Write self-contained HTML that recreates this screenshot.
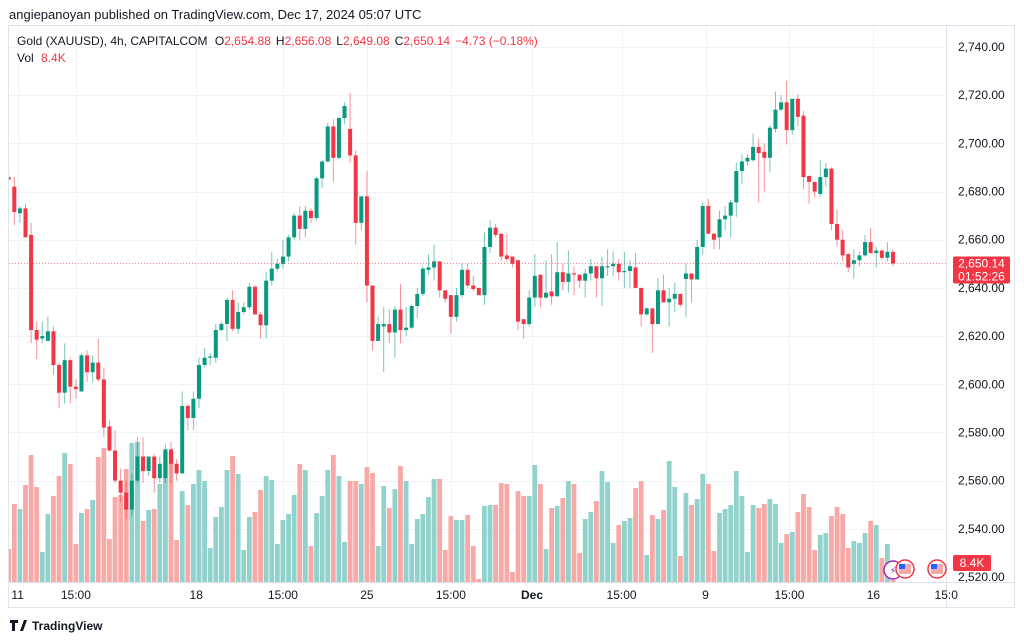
<!DOCTYPE html>
<html><head><meta charset="utf-8"><style>
html,body{margin:0;padding:0;background:#fff;width:1024px;height:641px;overflow:hidden}
svg text{font-family:"Liberation Sans","DejaVu Sans",sans-serif}
</style></head><body>
<svg id="chart" width="1024" height="641" viewBox="0 0 1024 641" xmlns="http://www.w3.org/2000/svg">
<defs><clipPath id="plotclip"><rect x="9" y="26" width="937" height="556"/></clipPath></defs>
<rect x="0" y="0" width="1024" height="641" fill="#fff"/>
<text x="9" y="19" font-size="13" fill="#131722">angiepanoyan published on TradingView.com, Dec 17, 2024 05:07 UTC</text>
<rect x="8.5" y="25.5" width="1006" height="582" fill="none" stroke="#e0e3eb"/>
<g id="grid"></g>
<g id="vol" clip-path="url(#plotclip)"></g>
<g id="candles" clip-path="url(#plotclip)"></g>
<line x1="946.5" y1="26" x2="946.5" y2="607" stroke="#e0e3eb"/>
<line x1="9" y1="582.5" x2="1014" y2="582.5" stroke="#e0e3eb"/>
<g id="ylabels"></g>
<g id="xlabels"></g>
<g font-size="12">
<text x="17" y="45" fill="#131722">Gold (XAUUSD), 4h, CAPITALCOM <tspan dx="4">O</tspan><tspan fill="#f23645">2,654.88</tspan><tspan dx="5">H</tspan><tspan fill="#f23645">2,656.08</tspan><tspan dx="5">L</tspan><tspan fill="#f23645">2,649.08</tspan><tspan dx="5">C</tspan><tspan fill="#f23645">2,650.14</tspan><tspan dx="5" fill="#f23645">−4.73 (−0.18%)</tspan></text>
<text x="17" y="62" fill="#131722">Vol <tspan dx="4" fill="#f23645">8.4K</tspan></text>
</g>
<line id="lastline" x1="9" x2="946" stroke="#f23645" stroke-width="1" stroke-dasharray="1,2" opacity="0.6"/>
<g>
<rect id="lastbox" x="953" width="57" height="27" rx="2" fill="#f23645"/>
<text id="lastp" x="981.5" font-size="12" fill="#fff" text-anchor="middle">2,650.14</text>
<text id="lastt" x="981.5" font-size="12" fill="#fff" text-anchor="middle">01:52:26</text>
</g>
<g>
<rect x="953" y="555" width="38" height="16" rx="2" fill="#f23645"/>
<text x="972" y="567" font-size="12" fill="#fff" text-anchor="middle">8.4K</text>
</g>
<g>
<circle cx="893" cy="570" r="9" fill="#fff" stroke="#9c27b0" stroke-width="1.5"/>
<text x="893" y="574" font-size="10" fill="#9c27b0" text-anchor="middle">⚡</text>
<circle cx="905" cy="569" r="9" fill="#fff" stroke="#f23645" stroke-width="1.5"/>
<rect x="899" y="564" width="12" height="10" fill="#f7a9a7"/><rect x="899" y="564" width="6" height="5" fill="#2962ff"/>
<circle cx="937" cy="569" r="9" fill="#fff" stroke="#f23645" stroke-width="1.5"/>
<rect x="931" y="564" width="12" height="10" fill="#f7a9a7"/><rect x="931" y="564" width="6" height="5" fill="#2962ff"/>
</g>
<g>
<path d="M10 620h8v3h-3v8h-3v-8h-2z M20 631l4-11h3l-4 11z" fill="#131722"/>
<text x="32" y="630" font-size="12" font-weight="bold" fill="#131722">TradingView</text>
</g>
</svg>
<script>
const opens=[2686,2682,2671,2673,2662,2622.5,2619,2618,2622,2608,2596.5,2610,2599,2597,2612,2605,2609,2602,2582.5,2572.5,2560,2555,2548,2560,2570,2564,2570,2561,2561,2573,2567,2563,2591,2586,2594,2608,2611,2611,2622.5,2625,2635,2623,2630,2632,2640.5,2629,2624.5,2643,2648,2650,2653,2661,2670,2664.5,2672,2669,2685.5,2692.5,2707,2694,2710.5,2706,2695,2667,2678,2641,2618,2624,2625,2621.5,2631,2622.5,2623.5,2632.5,2637.5,2647.5,2648.5,2651,2639,2637,2628,2637,2647.5,2641,2640,2637,2657,2665,2662.5,2653.5,2653,2651.5,2627,2625,2636,2645.5,2636,2638.5,2636.5,2646.5,2642.5,2646,2645.5,2643,2646,2649,2644,2648.5,2649,2650,2646.5,2647,2648.5,2640,2629,2631.5,2625,2639,2634,2635.5,2637.5,2643.7,2646,2643.5,2657,2674,2662.5,2661,2668.5,2670,2675.5,2688.5,2692.5,2693,2698.5,2696.5,2694,2706,2714,2717,2705.5,2718.5,2711.5,2686.5,2684,2679,2686,2689.5,2666.5,2660,2654,2650,2651.5,2653.5,2659,2654.5,2655.5,2652.5,2654.88];
const highs=[2687,2686,2674,2675,2667,2626,2626,2628,2624,2609,2617,2611,2602,2613,2614,2612,2619,2607,2585,2581,2565,2560,2563,2578,2578,2570,2571,2570,2575,2576,2569,2597,2592,2597,2611,2615,2613,2625,2626,2636,2639,2634,2634,2642,2641,2630,2646.5,2655,2652,2660,2662,2671,2674,2674,2673,2686,2693,2708.5,2710,2711,2717,2721,2697,2678,2688.5,2641,2628,2632,2631,2632.5,2641.5,2632,2633,2640,2649,2654,2658,2651,2639,2637,2640,2650,2650,2645,2640,2663,2668,2666.5,2662.5,2662.5,2653,2651.5,2627,2639,2654,2645.5,2651.5,2654,2659,2650,2655.5,2649,2645.5,2648,2652,2649,2653,2656,2655,2652,2655,2651.5,2654.5,2640,2632,2631.5,2644,2645.5,2640,2642,2637.5,2650,2646,2660,2675.5,2677,2662.5,2672,2674,2676.5,2692,2695.5,2695.5,2704,2702,2700,2707.5,2721.5,2720,2726,2718.5,2720.5,2713.5,2686.5,2684,2693,2692,2690,2672.5,2664,2654.5,2656,2655,2662,2665,2657,2656,2659,2656.08];
const lows=[2684,2666,2667,2661,2617,2610.5,2617,2618,2604,2590,2592,2592,2594,2597,2601,2601,2601,2578,2572,2559,2551,2544,2545,2559,2559,2562,2555,2559,2559,2559,2560,2563,2581,2581,2590,2607,2608,2609,2622,2618,2622,2621,2629,2631,2629,2619,2619,2641,2647,2648,2651,2660,2660,2661,2667,2668,2681.5,2692,2684,2693.5,2708,2692,2658,2664,2634,2614,2618,2605,2617,2611,2617,2620,2623,2627.5,2636.5,2645.5,2643,2636,2634,2621,2626,2636,2640,2638.5,2637,2633,2654.5,2661,2651,2651,2648.5,2622.5,2619,2624,2632,2632,2635.5,2633,2636.5,2639,2638,2637,2640,2636,2643,2636,2632.5,2645,2645,2643,2640,2640,2640,2624,2628.5,2613,2625,2634,2624,2630,2632,2628,2634,2643.5,2654,2662.5,2656,2656,2664,2661,2669.5,2683,2691,2692.5,2675.5,2680,2688,2704.5,2713.5,2699.5,2703.5,2707,2681,2675,2677.5,2678,2682,2664,2657,2651,2646.5,2644,2649,2653,2654,2648.5,2651.5,2651,2649.08];
const closes=[2685,2671.5,2673,2661,2622.5,2618.5,2620,2622,2608,2596.5,2610,2599,2598,2612,2605,2609,2602,2582,2572.5,2560,2555,2548,2560,2570,2564,2570,2561,2567,2573,2567,2563,2591,2586,2594,2608,2611,2611.5,2622.5,2625,2635,2623,2630,2632,2640.5,2629,2624.5,2643,2648,2650,2653,2661,2670,2664.5,2672,2669,2685.5,2692.5,2707,2694,2710.5,2715.5,2695,2667,2678,2641,2618,2625,2625,2621.5,2631,2622.5,2623.5,2632.5,2637.5,2648,2648.5,2651,2639,2635.5,2628,2637,2647.5,2641,2639.5,2637,2657,2665,2662,2653,2652,2650,2626,2625,2636,2645,2636,2638,2636.5,2646.5,2642.5,2646,2645.5,2643,2646,2649,2644,2649,2649,2650,2646.5,2647,2649,2640,2629,2631.5,2625,2639,2634,2635.5,2637.5,2633,2646,2643.5,2657,2674,2662.5,2660,2668.5,2670,2675.5,2688.5,2692.5,2694,2698.5,2696,2694,2706.5,2714,2717,2705.5,2718.5,2711,2686,2684,2680,2686,2689.5,2666.5,2660,2653.5,2648.5,2651.5,2653.5,2659,2654.5,2655.5,2652.5,2655,2650.14];
const volumes=[33,78,73,97,127,95,30,68,86,106,129,118,38,69,73,82,125,134,43,85,87,113,139,140,61,72,73,98,130,130,42,91,77,98,112,101,34,65,75,112,126,108,32,65,70,92,106,102,38,62,68,87,118,112,36,69,86,112,127,106,40,101,101,98,115,109,36,96,74,93,116,101,38,63,68,85,103,103,32,66,62,62,67,36,3,76,77,77,99,98,10,91,86,86,117,98,33,74,76,84,101,98,29,63,70,81,111,100,39,57,61,64,94,101,27,67,63,72,121,95,26,89,77,83,108,98,31,69,73,77,111,86,30,77,74,78,83,78,39,48,50,70,88,75,32,47,49,66,75,68,34,41,39,49,61,57,24,38,2];
const priceTicks=[2740,2720,2700,2680,2660,2640,2620,2600,2580,2560,2540,2520];
const priceTickLabels=["2,740.00","2,720.00","2,700.00","2,680.00","2,660.00","2,640.00","2,620.00","2,600.00","2,580.00","2,560.00","2,540.00","2,520.00"];
const timeTickIdx=[1.6,12,33.5,49,64,79,93.5,109.5,124.5,139.5,154.5,167.5];
const timeTickLabels=["11","15:00","18","15:00","25","15:00","Dec","15:00","9","15:00","16","15:0"];
const lastPrice=2650.14;

const NS="http://www.w3.org/2000/svg";
function yP(p){return 47+(2740-p)*2.409;}
function xI(i){return 8.7+i*5.597;}
function yV(v){return 582-v*1.0;}
function mk(tag,attrs,parent){const e=document.createElementNS(NS,tag);for(const k in attrs)e.setAttribute(k,attrs[k]);parent.appendChild(e);return e;}
const grid=document.getElementById('grid'),vol=document.getElementById('vol'),cg=document.getElementById('candles'),yl=document.getElementById('ylabels'),xl=document.getElementById('xlabels');
priceTicks.forEach((p,k)=>{
  const y=Math.round(yP(p))+0.5;
  const g=mk('line',{x1:9,x2:946,y1:y,y2:y,stroke:'#f0f3fa'},grid);
  
  
  const t=mk('text',{x:958,y:yP(p)+4,'font-size':12,fill:'#131722'},yl);
  
  
  t.textContent=priceTickLabels[k];
});
timeTickIdx.forEach((ti,k)=>{
  const x=Math.round(xI(ti))+0.5;
  if(x<946){const g=mk('line',{x1:x,x2:x,y1:26,y2:582,stroke:'#f0f3fa'},grid);
  
  }
  const t=mk('text',{x:xI(ti),y:599,'font-size':12,fill:'#131722','text-anchor':'middle'},xl);
  
  
  if(timeTickLabels[k]==='Dec')t.setAttribute('font-weight','bold');
  t.textContent=timeTickLabels[k];
});
volumes.forEach((v,i)=>{
  const up=closes[i]>=opens[i];
  const r=mk('rect',{x:xI(i)-2.4,y:yV(v),width:4.8,height:582-yV(v),fill:up?'#92d2cc':'#f7a9a7'},vol);
  
  
});
opens.forEach((o,i)=>{
  const c=closes[i],up=c>=o,col=up?'#089981':'#f23645';
  const x=xI(i);
  const g=mk('g',{},cg);
  
  
  mk('line',{x1:x,x2:x,y1:yP(highs[i]),y2:yP(lows[i]),stroke:col,'stroke-width':1,opacity:0.55},g);
  const top=yP(Math.max(o,c)),bot=yP(Math.min(o,c));
  mk('rect',{x:x-2,y:top,width:4,height:Math.max(1,bot-top),fill:col},g);
});
const ly=yP(lastPrice);
const ll=document.getElementById('lastline');ll.setAttribute('y1',ly);ll.setAttribute('y2',ly);
document.getElementById('lastbox').setAttribute('y',ly-7);
document.getElementById('lastp').setAttribute('y',ly+4);
document.getElementById('lastt').setAttribute('y',ly+17);
</script>
</body></html>
